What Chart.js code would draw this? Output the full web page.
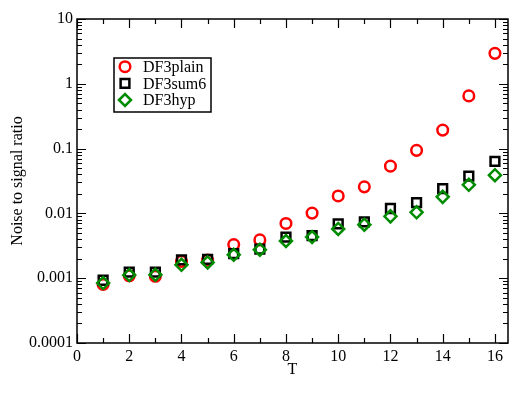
<!DOCTYPE html>
<html>
<head>
<meta charset="utf-8">
<script src="https://cdn.jsdelivr.net/npm/chart.js@4/dist/chart.umd.min.js"></script>
<style>
html,body{margin:0;padding:0;background:#fff;}
#c{display:block;}
</style>
</head>
<body>
<canvas id="c" width="509" height="393"></canvas>
<script>
const T = [1,2,3,4,5,6,7,8,9,10,11,12,13,14,15,16];
const DF3plain = [0.00080,0.00109,0.00107,0.00182,0.00190,0.0033,0.0039,0.0070,0.0101,0.0186,0.0257,0.0536,0.094,0.193,0.65,2.95];
const DF3sum6 = [0.00093,0.00124,0.00124,0.00192,0.00195,0.00239,0.00282,0.00432,0.00453,0.00687,0.00738,0.0119,0.0147,0.0242,0.0376,0.0634];
const DF3hyp = [0.00084,0.00112,0.00113,0.00161,0.00175,0.0023,0.00275,0.00375,0.00432,0.00575,0.0067,0.0090,0.0104,0.018,0.0276,0.0389];
const seriesNames = ['DF3plain','DF3sum6','DF3hyp'];
const xTickValues = [0,2,4,6,8,10,12,14,16];
const yTickValues = [0.0001,0.001,0.01,0.1,1,10];

const FONT = 'Liberation Serif, Times New Roman, serif';
const RED = '#ff0000', BLACK = '#000000', GREEN = 'rgb(0,140,0)';

function pts(ys){ return T.map((t,i)=>({x:t,y:ys[i]})); }

const frameTicks = {
  id:'frameTicks',
  beforeDatasetsDraw(chart){
    const ctx = chart.ctx, a = chart.chartArea;
    const xs = chart.scales.x, ys = chart.scales.y;
    ctx.save();
    ctx.strokeStyle = '#000';
    ctx.lineWidth = 1.5;
    ctx.strokeRect(a.left, a.top, a.right - a.left, a.bottom - a.top);
    ctx.lineWidth = 1.2;
    ctx.beginPath();
    for (let v = 0; v <= 16; v++) {
      const px = Math.round(xs.getPixelForValue(v)) + 0.5;
      const L = (v % 2 === 0) ? 9 : 5;
      ctx.moveTo(px, a.bottom); ctx.lineTo(px, a.bottom - L);
      ctx.moveTo(px, a.top); ctx.lineTo(px, a.top + L);
    }
    for (let e = -4; e <= 1; e++) {
      for (let m = 1; m <= 9; m++) {
        const v = m * Math.pow(10, e);
        if (v > 10.0001) break;
        const py = Math.round(ys.getPixelForValue(v)) + 0.5;
        const L = (m === 1) ? 9 : 5;
        ctx.moveTo(a.left, py); ctx.lineTo(a.left + L, py);
        ctx.moveTo(a.right, py); ctx.lineTo(a.right - L, py);
      }
    }
    ctx.stroke();
    ctx.restore();
  },
  afterDraw(chart){
    const ctx = chart.ctx;
    ctx.save();
    ctx.strokeStyle = '#000';
    ctx.lineWidth = 1.5;
    ctx.strokeRect(114, 58, 97, 54);
    const rows = [66.7, 83.3, 100];
    ctx.font = '16px ' + FONT;
    ctx.textBaseline = 'middle';
    ctx.textAlign = 'left';
    chart.data.datasets.forEach((ds, i) => {
      const y = rows[i];
      ctx.strokeStyle = ds.borderColor;
      ctx.fillStyle = 'rgba(0,0,0,0)';
      ctx.lineWidth = ds.borderWidth;
      Chart.helpers.drawPoint(ctx, {pointStyle: ds.pointStyle, radius: ds.pointRadius, borderWidth: ds.borderWidth, rotation: 0}, 125, y);
      ctx.fillStyle = '#000';
      ctx.fillText(ds.label, 143, y + 1);
    });
    ctx.restore();
  }
};

new Chart(document.getElementById('c'), {
  type: 'scatter',
  data: {
    datasets: [
      {label: seriesNames[0], data: pts(DF3plain), pointStyle: 'circle', pointRadius: 5.3, borderWidth: 2.5, borderColor: RED, backgroundColor: 'rgba(0,0,0,0)', order: 3},
      {label: seriesNames[1], data: pts(DF3sum6), pointStyle: 'rect', pointRadius: 6.2, borderWidth: 2.5, borderColor: BLACK, backgroundColor: 'rgba(0,0,0,0)', order: 2},
      {label: seriesNames[2], data: pts(DF3hyp), pointStyle: 'rectRot', pointRadius: 6, borderWidth: 2.5, borderColor: GREEN, backgroundColor: 'rgba(0,0,0,0)', order: 1}
    ]
  },
  options: {
    responsive: false,
    animation: false,
    devicePixelRatio: 1,
    layout: {autoPadding: false, padding: {top: 19, right: 1, bottom: 0, left: 0}},
    plugins: {legend: {display: false}, tooltip: {enabled: false}},
    elements: {point: {hoverRadius: 6}},
    scales: {
      x: {
        type: 'linear', min: 0, max: 16.5,
        grid: {display: false, drawTicks: false},
        border: {display: false},
        afterBuildTicks: s => { s.ticks = xTickValues.map(v => ({value: v})); },
        afterFit: s => { s.height = 50; s.paddingLeft = 0; s.paddingRight = 0; },
        ticks: {color: '#000', font: {family: FONT, size: 16}, padding: 4, maxRotation: 0, autoSkip: false},
        title: {display: true, text: 'T', color: '#000', font: {family: FONT, size: 16}, padding: {top: 0, bottom: 14}}
      },
      y: {
        type: 'logarithmic', min: 0.0001, max: 10,
        grid: {display: false, drawTicks: false},
        border: {display: false},
        afterBuildTicks: s => { s.ticks = yTickValues.map(v => ({value: v})); },
        afterFit: s => { s.width = 77; s.paddingTop = 0; s.paddingBottom = 0; },
        ticks: {color: '#000', font: {family: FONT, size: 16}, padding: 4, autoSkip: false, callback: v => String(v)},
        title: {display: true, text: 'Noise to signal ratio', color: '#000', font: {family: FONT, size: 16}, padding: {top: 8, bottom: 0}}
      }
    }
  },
  plugins: [frameTicks]
});
</script>
</body>
</html>
